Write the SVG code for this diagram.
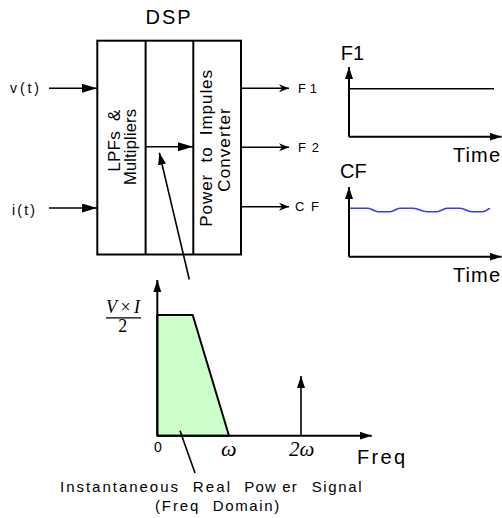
<svg xmlns="http://www.w3.org/2000/svg" width="502" height="518" viewBox="0 0 502 518">
<style>
.ln{stroke:#000;stroke-width:1.6;fill:none}
.bx{stroke:#000;stroke-width:2;fill:none}
.ax{stroke:#000;stroke-width:2;fill:none}
.t{font-family:"Liberation Sans",Arial,sans-serif;fill:#000}
.m{font-family:"Liberation Serif","Times New Roman",serif;fill:#000}
</style>
<defs>
<marker id="big" markerUnits="userSpaceOnUse" markerWidth="16" markerHeight="10" refX="15" refY="4.5" orient="auto"><path d="M0,0 L15,4.5 L0,9 z" fill="#000"/></marker>
<marker id="sm" markerUnits="userSpaceOnUse" markerWidth="11" markerHeight="9" refX="10" refY="4" orient="auto"><path d="M0,0 L10,4 L0,8 L3,4 z" fill="#000"/></marker>
<marker id="axh" markerUnits="userSpaceOnUse" markerWidth="13" markerHeight="9" refX="12" refY="4" orient="auto"><path d="M0,0 L12,4 L0,8 z" fill="#000"/></marker>
<marker id="ptr" markerUnits="userSpaceOnUse" markerWidth="13" markerHeight="9" refX="12" refY="4" orient="auto"><path d="M0,0 L12,4 L0,8 z" fill="#000"/></marker>
</defs>

<g id="dsp">
<text class="t" x="145.5" y="24" font-size="20" textLength="45" lengthAdjust="spacing">DSP</text>
<rect class="bx" x="97.3" y="40.7" width="143.7" height="213.8"/>
<line class="bx" x1="145.6" y1="40.7" x2="145.6" y2="254.5"/>
<line class="bx" x1="193.3" y1="40.7" x2="193.3" y2="254.5"/>
</g>

<g id="lpf">
<text class="t" font-size="17" xml:space="preserve" transform="translate(120.3,171.7) rotate(-90)" textLength="62" lengthAdjust="spacing">LPFs  &amp;</text>
<text class="t" font-size="16.5" transform="translate(136,185) rotate(-90)" textLength="76" lengthAdjust="spacing">Multipliers</text>
</g>

<g id="conv">
<text class="t" font-size="17" xml:space="preserve" transform="translate(212,226.7) rotate(-90)" textLength="156.7" lengthAdjust="spacing">Power  to  Impules</text>
<text class="t" font-size="17" transform="translate(229.5,191.7) rotate(-90)" textLength="83.4" lengthAdjust="spacing">Converter</text>
</g>

<g id="inputs">
<text class="t" x="10" y="93.3" font-size="14" textLength="29" lengthAdjust="spacing">v(t)</text>
<text class="t" x="12" y="215" font-size="14" textLength="23" lengthAdjust="spacing">i(t)</text>
</g>

<g id="outputs">
<text class="t" x="298" y="92.7" font-size="13" textLength="19" lengthAdjust="spacing">F1</text>
<text class="t" x="298" y="151.7" font-size="13" textLength="21" lengthAdjust="spacing">F2</text>
<text class="t" x="295" y="211" font-size="13" textLength="24" lengthAdjust="spacing">CF</text>
</g>

<g id="chart-f1">
<text class="t" x="340.7" y="60" font-size="20">F1</text>
<line class="ax" x1="349" y1="136.7" x2="349" y2="67" marker-end="url(#axh)"/>
<line class="ax" x1="349" y1="136.7" x2="501.5" y2="136.7" marker-end="url(#axh)"/>
<line class="ln" x1="349" y1="88.7" x2="494" y2="88.7"/>
<text class="t" x="453" y="161.5" font-size="20" textLength="47" lengthAdjust="spacing">Time</text>
</g>

<g id="chart-cf">
<text class="t" x="340" y="178" font-size="20">CF</text>
<line class="ax" x1="349" y1="256.7" x2="349" y2="187" marker-end="url(#axh)"/>
<line class="ax" x1="349" y1="256.7" x2="501.5" y2="256.7" marker-end="url(#axh)"/>
<path d="M350,208.3 H368 C372,208.3 374,211.7 378,211.7 H390 C394,211.7 396,208.3 400,208.3 H413 C419,208.3 421,211.7 427,211.7 H437 C441,211.7 443,208.3 447,208.3 H460 C465,208.3 467,211.7 472,211.7 H483 C486,211.7 487,209 490,208.5" fill="none" stroke="#3b3bf0" stroke-width="1.5"/>
<text class="t" x="453" y="281.5" font-size="20" textLength="47" lengthAdjust="spacing">Time</text>
</g>

<g id="spectrum">
<polygon points="157.3,315 192.7,315 229,435.7 157.3,435.7" fill="#ccffcc" stroke="#000" stroke-width="2" stroke-linejoin="round"/>
<line class="ax" x1="157.3" y1="435.7" x2="157.3" y2="280" marker-end="url(#axh)"/>
<line class="ax" x1="157.3" y1="435.7" x2="371.7" y2="435.7" marker-end="url(#axh)"/>
<line class="ln" x1="301" y1="435.7" x2="301" y2="376" marker-end="url(#axh)"/>
<text class="m" x="106" y="313" font-size="18" textLength="34" lengthAdjust="spacing"><tspan font-style="italic">V</tspan> × <tspan font-style="italic">I</tspan></text>
<line x1="106" y1="317.8" x2="141" y2="317.8" stroke="#000" stroke-width="1.2"/>
<text class="m" x="118.3" y="331.7" font-size="18">2</text>
<text class="t" x="154" y="452.3" font-size="14">0</text>
<text class="m" x="221" y="456" font-size="22" font-style="italic">ω</text>
<text class="m" x="289" y="456" font-size="21" font-style="italic">2ω</text>
<text class="t" x="357" y="464" font-size="20" textLength="48" lengthAdjust="spacing">Freq</text>
<text class="t" y="491.7" font-size="15"><tspan x="60" textLength="118" lengthAdjust="spacing">Instantaneous</tspan><tspan x="192.7" textLength="37.3" lengthAdjust="spacing">Real</tspan><tspan x="244.3" textLength="52.4" lengthAdjust="spacing">Pow er</tspan><tspan x="311.7" textLength="50" lengthAdjust="spacing">Signal</tspan></text>
<text class="t" y="511" font-size="15"><tspan x="155" textLength="43.3" lengthAdjust="spacing">(Freq</tspan><tspan x="212.7" textLength="66.6" lengthAdjust="spacing">Domain)</tspan></text>
</g>

<g id="connectors">
<line class="ln" x1="49" y1="88.3" x2="97" y2="88.3" marker-end="url(#big)"/>
<line class="ln" x1="49" y1="208" x2="97" y2="208" marker-end="url(#big)"/>
<line class="ln" x1="145.6" y1="146.7" x2="193" y2="146.7" marker-end="url(#big)"/>
<line class="ln" x1="241" y1="88.3" x2="289" y2="88.3" marker-end="url(#sm)"/>
<line class="ln" x1="241" y1="147.3" x2="289" y2="147.3" marker-end="url(#sm)"/>
<line class="ln" x1="241" y1="206.7" x2="289" y2="206.7" marker-end="url(#sm)"/>
<line class="ln" x1="189.3" y1="279.5" x2="159.3" y2="152.7" marker-end="url(#ptr)"/>
<line class="ln" x1="180" y1="430.7" x2="195" y2="473"/>
</g>
</svg>
